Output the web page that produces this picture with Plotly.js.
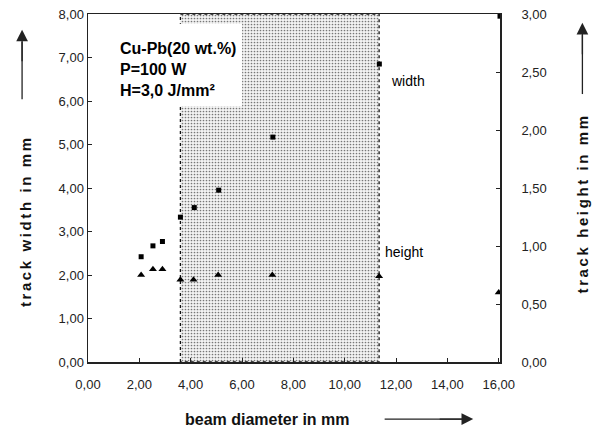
<!DOCTYPE html>
<html>
<head>
<meta charset="utf-8">
<script src="https://cdn.plot.ly/plotly-3.0.1.min.js"></script>
<style>html,body{margin:0;padding:0;background:#fff;}#chart{width:592px;height:431px;}</style>
</head>
<body>
<div id="chart"></div>
<script>
// beam diameter (mm)
const widthX = [2.07, 2.53, 2.9, 3.6, 4.14, 5.09, 7.2, 11.35, 16.05];
// track width (mm), left axis
const widthY = [2.42, 2.67, 2.77, 3.33, 3.55, 3.95, 5.17, 6.85, 7.95];
const heightX = [2.07, 2.53, 2.9, 3.6, 4.11, 5.07, 7.18, 11.34, 16.0];
// track height (mm), right axis
const heightY = [0.75, 0.80, 0.80, 0.71, 0.71, 0.75, 0.75, 0.74, 0.60];
// shaded beam-diameter interval
const shadedRegion = [3.6, 11.34];
const leftTicks = [0, 1, 2, 3, 4, 5, 6, 7, 8];
const leftTickText = ["0,00","1,00","2,00","3,00","4,00","5,00","6,00","7,00","8,00"];
const rightTicks = [0, 0.5, 1, 1.5, 2, 2.5, 3];
const rightTickText = ["0,00","0,50","1,00","1,50","2,00","2,50","3,00"];
const xTicks = [0, 2, 4, 6, 8, 10, 12, 14, 16];
const xTickText = ["0,00","2,00","4,00","6,00","8,00","10,00","12,00","14,00","16,00"];

const tickFont = {family: "Liberation Sans Narrow, Arial Narrow, Liberation Sans, Arial", size: 13, color: "#222"};
const titleFont = {family: "Liberation Sans, Arial", size: 15, color: "#111"};

const traces = [
  {
    x: [shadedRegion[0], shadedRegion[0], shadedRegion[1], shadedRegion[1], shadedRegion[0]],
    y: [0, 8, 8, 0, 0],
    mode: "lines", fill: "toself",
    fillcolor: "#eeeeee",
    fillpattern: {shape: ".", fgcolor: "#777", bgcolor: "#f3f3f3", size: 3, solidity: 0.25},
    line: {color: "#111", width: 1.3, dash: "dot"},
    hoverinfo: "skip", showlegend: false
  },
  {
    x: widthX, y: widthY, mode: "markers", name: "width",
    marker: {symbol: "square", size: 5, color: "#000"}, showlegend: false
  },
  {
    x: heightX, y: heightY, mode: "markers", name: "height", yaxis: "y2",
    marker: {symbol: "triangle-up", size: 7, color: "#000"}, showlegend: false
  }
];

const layout = {
  width: 592, height: 431,
  margin: {l: 88, r: 92, t: 14, b: 69},
  paper_bgcolor: "#fff", plot_bgcolor: "#fff",
  showlegend: false,
  xaxis: {
    range: [0, 16.05], tickvals: xTicks, ticktext: xTickText,
    ticks: "inside", ticklen: 4, tickcolor: "#222",
    showline: true, linecolor: "#222", linewidth: 1.5, mirror: true,
    showgrid: false, zeroline: false, tickfont: tickFont, ticklabelstandoff: 10
  },
  yaxis: {
    range: [0, 8], tickvals: leftTicks, ticktext: leftTickText,
    ticks: "inside", ticklen: 4, tickcolor: "#222",
    showline: true, linecolor: "#222", linewidth: 1.5,
    showgrid: false, zeroline: false, tickfont: tickFont
  },
  yaxis2: {
    range: [0, 3], tickvals: rightTicks, ticktext: rightTickText,
    overlaying: "y", side: "right",
    ticks: "inside", ticklen: 4, tickcolor: "#222",
    showline: true, linecolor: "#222", linewidth: 1.8,
    showgrid: false, zeroline: false, tickfont: tickFont, ticklabelstandoff: 17
  },
  shapes: [
    {type: "rect", xref: "paper", yref: "paper", x0: 0.05, x1: 0.374, y0: 0.735, y1: 0.972,
     fillcolor: "#fff", line: {width: 0}, layer: "above"},
    // axis arrows
    {type: "line", xref: "paper", yref: "paper", x0: -0.16, x1: -0.16, y0: 0.755, y1: 0.92, line: {color: "#222", width: 1.3}},
    {type: "line", xref: "paper", yref: "paper", x0: 1.2, x1: 1.2, y0: 0.77, y1: 0.94, line: {color: "#222", width: 1.3}},
    {type: "line", xref: "paper", yref: "paper", x0: 0.72, x1: 0.92, y0: -0.164, y1: -0.164, line: {color: "#222", width: 1.3}}
  ],
  annotations: [
    {xref: "paper", yref: "paper", x: 0.073, y: 0.93, xanchor: "left", yanchor: "top", align: "left",
     showarrow: false, text: "<b>Cu-Pb(20 wt.%)<br>P=100 W<br>H=3,0 J/mm²</b>",
     font: {family: "Liberation Sans, Arial", size: 16, color: "#000"}},
    {xref: "paper", yref: "paper", x: 0.73, y: 0.807, xanchor: "left", yanchor: "middle", showarrow: false,
     text: "width", font: {family: "Liberation Sans, Arial", size: 14, color: "#000"}},
    {xref: "paper", yref: "paper", x: 0.715, y: 0.315, xanchor: "left", yanchor: "middle", showarrow: false,
     text: "height", font: {family: "Liberation Sans, Arial", size: 14, color: "#000"}},
    {xref: "paper", yref: "paper", x: -0.153, y: 0.405, xanchor: "center", yanchor: "middle", textangle: -90, showarrow: false,
     text: "<b>track width in mm</b>", font: titleFont},
    {xref: "paper", yref: "paper", x: 1.2, y: 0.455, xanchor: "center", yanchor: "middle", textangle: -90, showarrow: false,
     text: "<b>track height in mm</b>", font: titleFont},
    {xref: "paper", yref: "paper", x: 0.435, y: -0.164, xanchor: "center", yanchor: "middle", showarrow: false,
     text: "<b>beam diameter in mm</b>", font: {family: "Liberation Sans, Arial", size: 16, color: "#111"}},
    // arrowheads
    {xref: "paper", yref: "paper", x: -0.16, y: 0.955, ax: -0.16, ay: 0.86, axref: "paper", ayref: "paper",
     showarrow: true, arrowhead: 2, arrowsize: 1.8, arrowwidth: 1.3, arrowcolor: "#222", text: ""},
    {xref: "paper", yref: "paper", x: 1.2, y: 0.975, ax: 1.2, ay: 0.88, axref: "paper", ayref: "paper",
     showarrow: true, arrowhead: 2, arrowsize: 1.8, arrowwidth: 1.3, arrowcolor: "#222", text: ""},
    {xref: "paper", yref: "paper", x: 0.935, y: -0.164, ax: 0.85, ay: -0.164, axref: "paper", ayref: "paper",
     showarrow: true, arrowhead: 2, arrowsize: 1.8, arrowwidth: 1.3, arrowcolor: "#222", text: ""}
  ]
};

Plotly.newPlot("chart", traces, layout, {displayModeBar: false, staticPlot: true}).then(function () {
  // the axis titles in the original are letter-spaced
  document.querySelectorAll("#chart .annotation-text").forEach(function (t) {
    const s = t.textContent;
    if (s === "track width in mm" || s === "track height in mm") {
      t.style.letterSpacing = "2.6px";
    }
  });
});
</script>
</body>
</html>
